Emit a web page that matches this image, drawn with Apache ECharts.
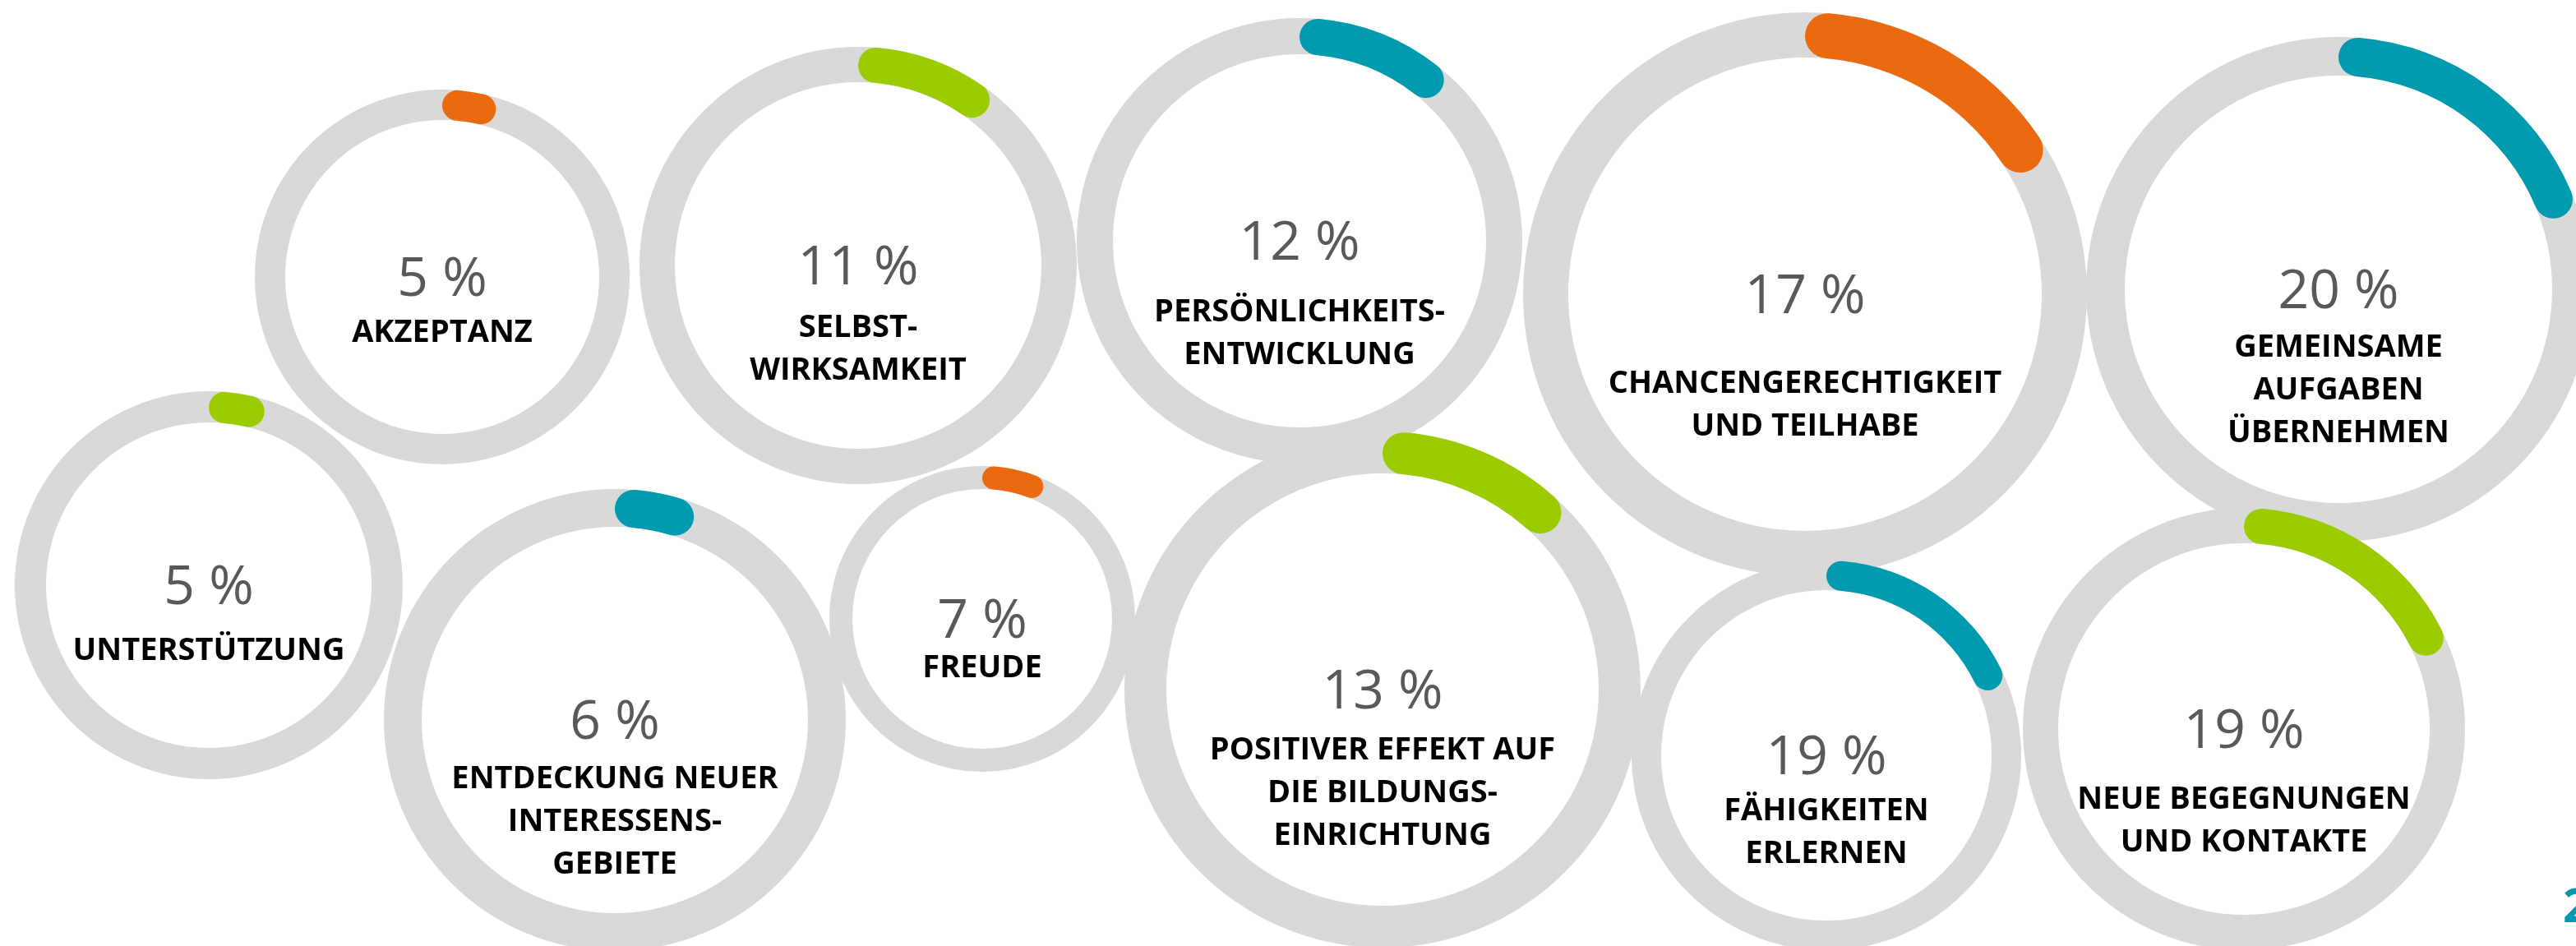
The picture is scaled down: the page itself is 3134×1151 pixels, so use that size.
<!DOCTYPE html>
<html>
<head>
<meta charset="utf-8">
<title>Ringe</title>
<script src="https://cdn.jsdelivr.net/npm/echarts@6/dist/echarts.min.js"></script>
<style>
  html, body { margin: 0; padding: 0; background: #fff; }
  #chart { width: 3134px; height: 1151px; }
</style>
</head>
<body>
<div id="chart"></div>
<script>
// Anteile in Prozent, eine Kategorie je Ring
const labels = [
  'AKZEPTANZ',
  'SELBST-\nWIRKSAMKEIT',
  'PERSÖNLICHKEITS-\nENTWICKLUNG',
  'CHANCENGERECHTIGKEIT\nUND TEILHABE',
  'GEMEINSAME\nAUFGABEN\nÜBERNEHMEN',
  'UNTERSTÜTZUNG',
  'ENTDECKUNG NEUER\nINTERESSENS-\nGEBIETE',
  'FREUDE',
  'POSITIVER EFFEKT AUF\nDIE BILDUNGS-\nEINRICHTUNG',
  'FÄHIGKEITEN\nERLERNEN',
  'NEUE BEGEGNUNGEN\nUND KONTAKTE'
];
const values = [5, 11, 12, 17, 20, 5, 6, 7, 13, 19, 19];
const colorKeys = ['orange', 'green', 'teal', 'orange', 'teal', 'green', 'teal', 'orange', 'green', 'teal', 'green'];
const pageNo = '2';

const palette = { orange: '#EB6A10', green: '#9BCC00', teal: '#009BAE' };
const trackColor = '#D9D9D9';

// Lage der Ringe: Mittelpunkt, Aussenradius, Ringstaerke, Abstand Beschriftung
const layout = [
  { cx: 538, cy: 337, r: 228, w: 37, nt: 53 },
  { cx: 1044, cy: 323, r: 266, w: 43, nt: 61 },
  { cx: 1581, cy: 293, r: 271, w: 44, nt: 72 },
  { cx: 2196, cy: 358, r: 343, w: 55, nt: 94 },
  { cx: 2845, cy: 352, r: 307, w: 47, nt: 56 },
  { cx: 254, cy: 712, r: 236, w: 38, nt: 65 },
  { cx: 748, cy: 876, r: 281, w: 46, nt: 57 },
  { cx: 1195, cy: 753, r: 186, w: 28, nt: 45 },
  { cx: 1682, cy: 839, r: 314, w: 51, nt: 59 },
  { cx: 2222, cy: 919, r: 237, w: 36, nt: 53 },
  { cx: 2730, cy: 887, r: 269, w: 43, nt: 71 }
];

const LINE_H = 52;
const PCT_H = 50;

let myChart = echarts.init(document.getElementById('chart'));

let tracks = [];
let arcs = [];
labels.forEach((name, i) => {
  let l = layout[i];
  let lines = name.split('\n');
  // Abstaende so, dass die Prozentzahl in der Ringmitte sitzt
  let gap = l.nt - 40;
  let top = gap + LINE_H * lines.length + 8;
  let text = '{t| }\n{p|' + values[i] + ' %}\n{g| }\n' +
    lines.map((s) => '{n|' + s + '}').join('\n');

  // grauer Ring mit Beschriftung
  tracks.push({
    type: 'pie',
    z: 2,
    silent: true,
    center: [l.cx, l.cy],
    radius: [l.r - l.w, l.r],
    startAngle: 90,
    emphasis: { disabled: true },
    itemStyle: { color: trackColor },
    labelLine: { show: false },
    label: {
      show: true,
      position: 'center',
      formatter: () => text,
      rich: {
        t: { lineHeight: top, fontSize: 10 },
        p: {
          fontFamily: 'Open Sans',
          fontSize: 66,
          lineHeight: PCT_H,
          color: '#595959'
        },
        g: { lineHeight: Math.max(gap, 1), fontSize: 4 },
        n: {
          fontFamily: 'Open Sans',
          fontWeight: 'bold',
          fontSize: 38,
          lineHeight: LINE_H,
          color: '#000'
        }
      }
    },
    data: [{ value: 100, name: name }]
  });

  // farbiger Anteil, startet oben, im Uhrzeigersinn
  arcs.push({
    type: 'pie',
    z: 3,
    silent: true,
    center: [l.cx, l.cy],
    radius: [l.r - l.w, l.r],
    startAngle: 90,
    clockwise: true,
    emphasis: { disabled: true },
    label: { show: false },
    labelLine: { show: false },
    data: [
      {
        value: values[i],
        name: name,
        itemStyle: { color: palette[colorKeys[i]], borderRadius: l.w / 2 }
      },
      {
        value: 100 - values[i],
        name: '',
        itemStyle: { color: 'rgba(0,0,0,0)' }
      }
    ]
  });
});

let options = {
  animation: false,
  backgroundColor: '#fff',
  title: {
    text: pageNo,
    left: 3118,
    top: 1076,
    padding: 0,
    textStyle: { color: '#009BAE', fontFamily: 'Open Sans', fontWeight: 'bold', fontSize: 58 }
  },
  series: tracks.concat(arcs)
};
myChart.setOption(options);
</script>
</body>
</html>
